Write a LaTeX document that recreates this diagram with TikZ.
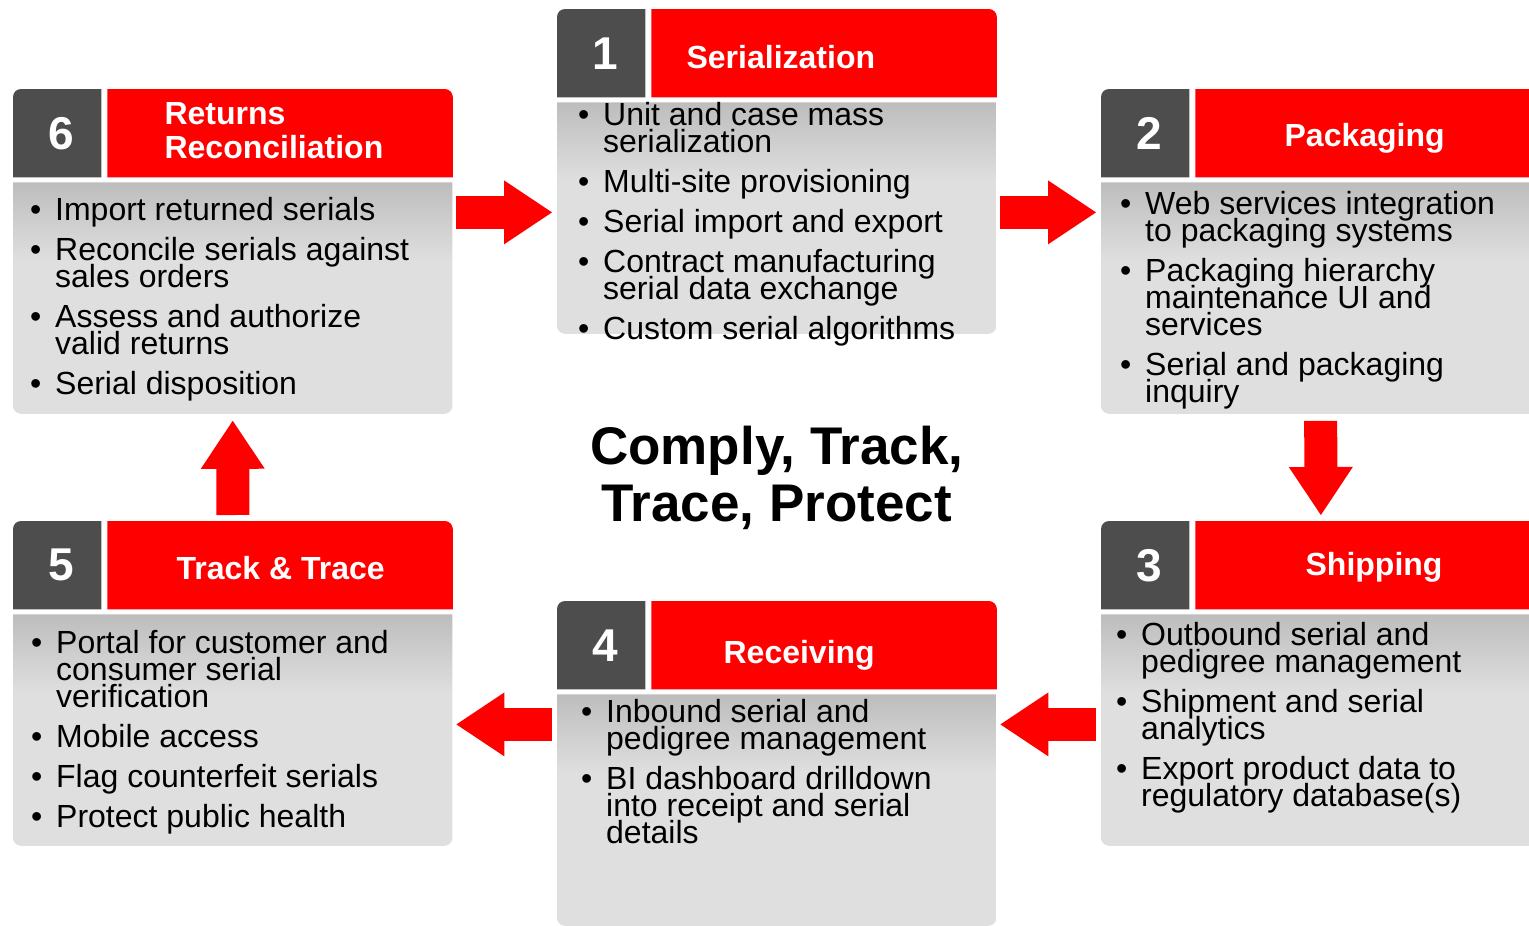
\documentclass[tikz,border=0pt]{standalone}
\usepackage{fontspec}
\setmainfont{Liberation Sans}
\usetikzlibrary{positioning,calc,arrows.meta,backgrounds}

\definecolor{stepred}{HTML}{FF0000}
\definecolor{numgray}{HTML}{4D4D4D}
\definecolor{bodylight}{HTML}{DFDFDF}
\definecolor{bodydark}{HTML}{BDBDBD}
\pgfdeclareverticalshading{bodyshade}{100bp}{color(0bp)=(bodylight); color(25bp)=(bodylight); color(58bp)=(bodylight); color(75bp)=(bodydark); color(100bp)=(bodydark)}

\newcommand{\pbul}{\makebox[25pt][l]{\textbullet}}
\newcommand{\pcont}{\hspace*{25pt}}

\begin{document}
\begin{tikzpicture}[x=1pt,y=1pt,
	numbox/.style={minimum width=88pt, minimum height=88pt, inner sep=0pt, anchor=north west, text=white, font=\fontsize{46}{46}\selectfont\bfseries},
	titlebox/.style={minimum width=345pt, minimum height=88pt, inner sep=0pt},
	bodybox/.style={minimum width=439pt, minimum height=231pt, inner sep=0pt},
	bullets/.style={inner sep=0pt, align=left, font={\fontsize{32}{27}\selectfont\lineskiplimit-50pt\relax}},
	heading/.style={inner sep=0pt, text=white, align=left, font={\fontsize{32}{34}\selectfont\bfseries\lineskiplimit-50pt\relax}},
	bigarrow/.style={stepred, line width=33pt, -{Triangle[length=48pt, width=64pt, line width=0pt]}}]
	\clip (0,0) rectangle (1529,-926);
	% six panels: number, title bar, body
	\foreach \k/\px/\py in {1/557/-9, 2/1101/-89, 3/1101/-521, 4/557/-601, 5/13/-521, 6/13/-89} {
		\node[numbox] (n\k) at (\px,\py) {\kern9pt\k};
		\node[titlebox, right=6pt of n\k.north east, anchor=north west] (t\k) {};
		\node[bodybox, below=5pt of n\k.south west, anchor=north west] (b\k) {};
		\begin{scope}[on background layer]
			\fill[numgray] (n\k.south west) -- ([yshift=-8pt]n\k.north west) arc[start angle=180, end angle=90, radius=8pt] -- (n\k.north east) -- (n\k.south east) -- cycle;
			\fill[stepred] (t\k.south west) -- (t\k.north west) -- ([xshift=-8pt]t\k.north east) arc[start angle=90, end angle=0, radius=8pt] -- (t\k.south east) -- cycle;
			\shade[shading=bodyshade] (b\k.north west) -- (b\k.north east) -- ([yshift=8pt]b\k.south east) arc[start angle=0, end angle=-90, radius=8pt] -- ([xshift=8pt]b\k.south west) arc[start angle=270, end angle=180, radius=8pt] -- cycle;
		\end{scope}
	}

	% titles
	\node[heading, anchor=base west] (h1) at ([shift={(35,-59)}]t1.north west) {Serialization};
	\node[heading, anchor=base west] (h2) at ([shift={(89,-57)}]t2.north west) {Packaging};
	\node[heading, anchor=base west] (h3) at ([shift={(110,-54)}]t3.north west) {Shipping};
	\node[heading, anchor=base west] (h4) at ([shift={(72,-62)}]t4.north west) {Receiving};
	\node[heading, anchor=base west] (h5) at ([shift={(69,-58)}]t5.north west) {Track \& Trace};
	\node[heading, anchor=north west] (h6) at ([shift={(57,-13)}]t6.north west) {Returns\\Reconciliation};

	% bullet lists
	\node[bullets, below right=0pt and 21pt of b1.north west] (l1) {\pbul Unit and case mass\\ \pcont serialization\\[13pt] \pbul Multi-site provisioning\\[13pt] \pbul Serial import and export\\[13pt] \pbul Contract manufacturing\\ \pcont serial data exchange\\[13pt] \pbul Custom serial algorithms};
	\node[bullets, below right=9pt and 19pt of b2.north west] (l2) {\pbul Web services integration\\ \pcont to packaging systems\\[13pt] \pbul Packaging hierarchy\\ \pcont maintenance UI and\\ \pcont services\\[13pt] \pbul Serial and packaging\\ \pcont inquiry};
	\node[bullets, below right=8pt and 15pt of b3.north west] (l3) {\pbul Outbound serial and\\ \pcont pedigree management\\[13pt] \pbul Shipment and serial\\ \pcont analytics\\[13pt] \pbul Export product data to\\ \pcont regulatory database(s)};
	\node[bullets, below right=5pt and 24pt of b4.north west] (l4) {\pbul Inbound serial and\\ \pcont pedigree management\\[13pt] \pbul BI dashboard drilldown\\ \pcont into receipt and serial\\ \pcont details};
	\node[bullets, below right=16pt and 18pt of b5.north west] (l5) {\pbul Portal for customer and\\ \pcont consumer serial\\ \pcont verification\\[13pt] \pbul Mobile access\\[13pt] \pbul Flag counterfeit serials\\[13pt] \pbul Protect public health};
	\node[bullets, below right=15pt and 17pt of b6.north west] (l6) {\pbul Import returned serials\\[13pt] \pbul Reconcile serials against\\ \pcont sales orders\\[13pt] \pbul Assess and authorize\\ \pcont valid returns\\[13pt] \pbul Serial disposition};

	% centre
	\node[inner sep=0pt, align=center, font={\fontsize{53}{57}\selectfont\bfseries}, below=92pt of b1.south] (motto) {Comply, Track,\\Trace, Protect};

	% block arrows round the cycle
	\draw[bigarrow] ([shift={(4,-30)}]b6.north east) -- ([shift={(-5,-110)}]b1.north west);
	\draw[bigarrow] ([shift={(4,-110)}]b1.north east) -- ([shift={(-5,-30)}]b2.north west);
	\draw[bigarrow] ([yshift=-7pt]b2.south) -- ([shift={(131.5,6)}]n3.north east);
	\draw[bigarrow] ([shift={(-5,-110)}]b3.north west) -- ([shift={(4,-30)}]b4.north east);
	\draw[bigarrow] ([shift={(-5,-30)}]b4.north west) -- ([shift={(4,-110)}]b5.north east);
	\draw[bigarrow] ([shift={(131.5,6)}]n5.north east) -- ([yshift=-7pt]b6.south);
\end{tikzpicture}
\end{document}
